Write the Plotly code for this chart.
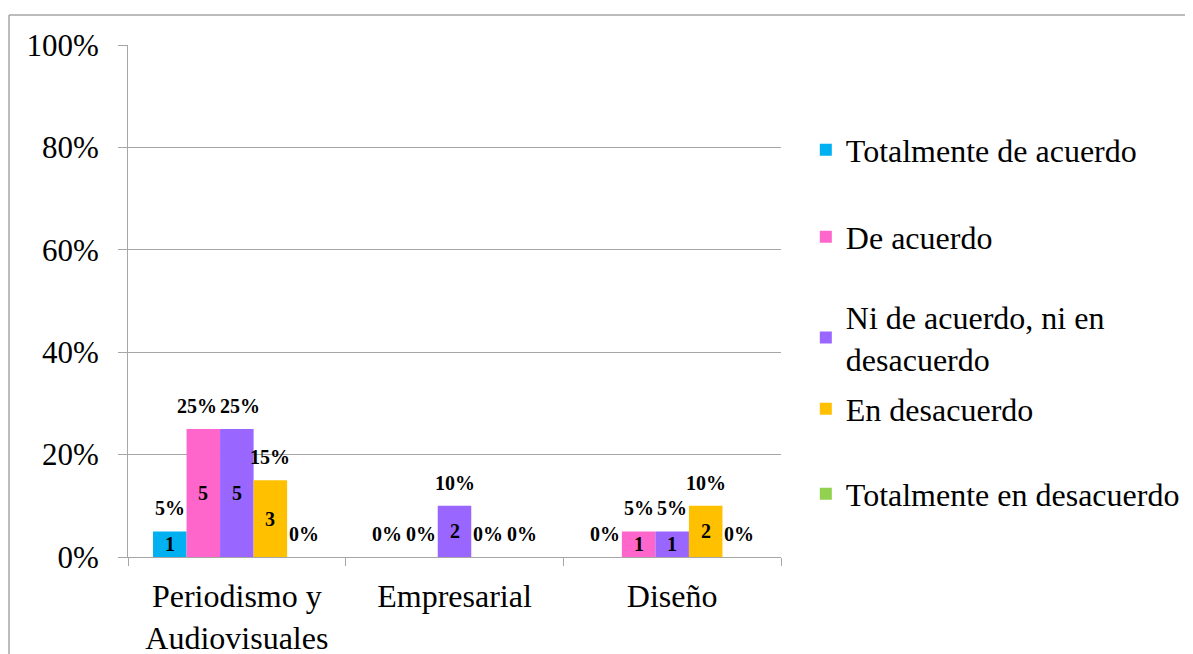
import plotly.graph_objects as go

categories = ["Periodismo y<br>Audiovisuales", "Empresarial", "Diseño"]
series_names = [
    "Totalmente de acuerdo",
    "De acuerdo",
    "Ni de acuerdo, ni en<br>desacuerdo",
    "En desacuerdo",
    "Totalmente en desacuerdo",
]
series_colors = ["#00B0F0", "#FF66CC", "#9966FF", "#FFC000", "#92D050"]
# counts of responses
counts_totalmente_de_acuerdo = [1, 0, 0]
counts_de_acuerdo = [5, 0, 1]
counts_ni = [5, 2, 1]
counts_en_desacuerdo = [3, 0, 2]
counts_totalmente_en_desacuerdo = [0, 0, 0]
# percentages
pct_totalmente_de_acuerdo = [0.05, 0.0, 0.0]
pct_de_acuerdo = [0.25, 0.0, 0.05]
pct_ni = [0.25, 0.10, 0.05]
pct_en_desacuerdo = [0.15, 0.0, 0.10]
pct_totalmente_en_desacuerdo = [0.0, 0.0, 0.0]

counts = [counts_totalmente_de_acuerdo, counts_de_acuerdo, counts_ni,
          counts_en_desacuerdo, counts_totalmente_en_desacuerdo]
pcts = [pct_totalmente_de_acuerdo, pct_de_acuerdo, pct_ni,
        pct_en_desacuerdo, pct_totalmente_en_desacuerdo]

y_ticks = [0, 0.2, 0.4, 0.6, 0.8, 1.0]
y_ticktext = ["0%", "20%", "40%", "60%", "80%", "100%"]

FONT = "Liberation Serif"
GRID = "#A6A6A6"
BARGAP = 0.23
legend_y = [0.795, 0.625, 0.428, 0.289, 0.123]

# page body has an 8px margin; compensate so the plot area lands at 128..781 x 45..557
ML, MT, MR, MB = 120, 37, 420, 105
PW = 1193 - ML - MR
PH = 654 - MT - MB

fig = go.Figure()
xs = list(range(len(categories)))
n = len(series_names)
bw = (1 - BARGAP) / n
annotations = []
for j, name in enumerate(series_names):
    leg = "legend" if j == 0 else f"legend{j+1}"
    fig.add_trace(go.Bar(
        x=xs, y=pcts[j], name=name, marker=dict(color=series_colors[j], line=dict(width=0)),
        legend=leg, hoverinfo="skip",
    ))
    for i in xs:
        xc = i - (1 - BARGAP) / 2 + (j + 0.5) * bw
        label = f"{round(pcts[j][i]*100)}%"
        # nudge wide labels apart when neighbours sit at the same height (as Excel does)
        shift = 0
        if len(label) >= 3:
            if j + 1 < n and abs(pcts[j + 1][i] - pcts[j][i]) < 0.03 and len(f"{round(pcts[j+1][i]*100)}%") >= 3:
                shift -= 6
            if j > 0 and abs(pcts[j - 1][i] - pcts[j][i]) < 0.03 and len(f"{round(pcts[j-1][i]*100)}%") >= 3:
                shift += 3
        annotations.append(dict(
            x=xc, y=pcts[j][i], xref="x", yref="y", text=label,
            showarrow=False, yanchor="middle", xanchor="center", yshift=23, xshift=shift,
            font=dict(family=FONT, size=20, color="black", weight="bold"),
        ))
        if counts[j][i] > 0:
            annotations.append(dict(
                x=xc, y=pcts[j][i] / 2, xref="x", yref="y", text=str(counts[j][i]),
                showarrow=False, yanchor="middle", xanchor="center",
                font=dict(family=FONT, size=20, color="black", weight="bold"),
            ))

layout_legends = {}
for j in range(n):
    key = "legend" if j == 0 else f"legend{j+1}"
    layout_legends[key] = dict(
        x=1.038, y=legend_y[j], xanchor="left", yanchor="middle",
        font=dict(family=FONT, size=32, color="black"),
        bgcolor="rgba(0,0,0,0)",
    )

fig.update_layout(
    width=1193, height=654,
    margin=dict(l=ML, r=MR, t=MT, b=MB, autoexpand=False),
    paper_bgcolor="white", plot_bgcolor="white",
    barmode="group", bargap=BARGAP, bargroupgap=0,
    showlegend=True,
    annotations=annotations,
    font=dict(family=FONT, color="black"),
    **layout_legends,
)
fig.update_xaxes(
    range=[-0.5, 2.5], tickvals=xs, ticktext=categories, ticks="",
    showline=True, linecolor=GRID, linewidth=1, showgrid=False, zeroline=False,
    tickfont=dict(family=FONT, size=32, color="black"),
    ticklabelstandoff=11,
    minor=dict(tickvals=[-0.5, 0.5, 1.5, 2.5], ticks="outside", ticklen=8,
               tickcolor=GRID, tickwidth=1, showgrid=False),
)
fig.update_yaxes(
    range=[0, 1], tickvals=y_ticks, ticktext=y_ticktext, ticks="outside", ticklen=9,
    tickcolor=GRID, showline=True, linecolor=GRID, linewidth=1,
    showgrid=True, gridcolor=GRID, gridwidth=1, zeroline=False,
    tickfont=dict(family=FONT, size=31, color="black"),
    ticklabelstandoff=13,
)
# outer chart frame (partially visible in the reference), screen px -> paper coords
def px_x(v):
    return (v - (ML + 8)) / PW

def px_y(v):
    return ((MT + 8) + PH - v) / PH

fig.add_shape(type="line", xref="paper", yref="paper",
              x0=px_x(9), x1=px_x(1200), y0=px_y(15), y1=px_y(15),
              line=dict(color=GRID, width=1.5))
fig.add_shape(type="line", xref="paper", yref="paper",
              x0=px_x(9), x1=px_x(9), y0=px_y(15), y1=px_y(670),
              line=dict(color=GRID, width=1.5))

fig.write_html("out.html")
